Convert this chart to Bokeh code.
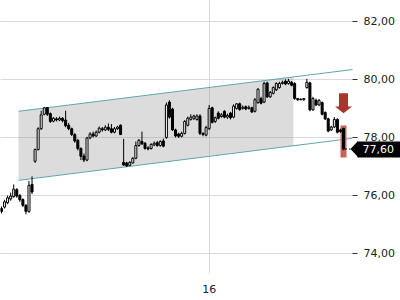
from bokeh.plotting import figure
from bokeh.models import FixedTicker, Range1d, LinearAxis, Grid, BoxAnnotation
from bokeh.embed import file_html
from bokeh.resources import INLINE

# ---- data ----
opens = [75.55, 75.60, 75.75, 75.88, 75.96, 76.20, 76.00, 75.86, 75.66, 75.45,
         76.38, 77.18, 77.58, 78.30, 78.80, 79.03, 78.82, 78.56, 78.64, 78.60,
         78.66, 78.60, 78.42, 78.30, 78.10, 77.90, 77.62, 77.36, 77.22, 77.98,
         78.12, 78.05, 78.18, 78.30, 78.26, 78.35, 78.30, 78.18, 78.30, 78.42,
         77.14, 77.12, 77.04, 77.12, 77.28, 77.72, 77.86, 77.80, 77.64, 77.62,
         77.74, 77.82, 77.72, 77.88, 78.00, 79.22, 78.98, 78.26, 78.12, 78.04,
         78.14, 78.42, 78.62, 78.66, 78.62, 78.74, 78.14, 78.08, 78.30, 79.02,
         78.55, 78.84, 78.72, 78.90, 78.70, 78.84, 78.70, 79.00, 79.16, 79.00,
         79.06, 79.00, 79.02, 78.90, 79.20, 79.34, 79.22, 79.88, 79.40, 79.52,
         79.64, 79.72, 79.86, 79.94, 79.86, 79.90, 79.86, 79.34, 79.32, 79.30,
         79.72, 79.88, 78.95, 79.28, 79.12, 79.20, 78.86, 78.64, 78.26, 78.36,
         78.62, 78.26, 78.31]
highs = [75.62, 75.85, 76.00, 76.10, 76.38, 76.25, 76.05, 75.90, 75.70, 76.50,
         76.66, 77.62, 78.35, 78.92, 79.05, 79.05, 78.86, 78.70, 78.70, 78.72,
         78.70, 78.92, 78.50, 78.34, 78.15, 77.95, 77.66, 77.45, 78.02, 78.18,
         78.20, 78.24, 78.38, 78.36, 78.42, 78.48, 78.46, 78.36, 78.40, 78.45,
         77.95, 77.16, 77.18, 77.32, 77.86, 77.95, 78.20, 77.84, 77.70, 77.80,
         77.86, 77.88, 77.90, 77.96, 79.20, 79.28, 79.02, 78.30, 78.16, 78.20,
         78.60, 78.72, 78.80, 78.78, 78.80, 78.80, 78.18, 78.40, 79.12, 79.06,
         78.72, 78.90, 78.84, 78.94, 78.82, 78.88, 79.14, 79.18, 79.20, 79.10,
         79.10, 79.10, 79.06, 79.36, 79.70, 79.40, 79.92, 79.92, 79.60, 79.76,
         79.90, 79.92, 79.96, 80.00, 80.02, 79.94, 79.90, 79.36, 79.34, 79.36,
         80.02, 79.92, 79.40, 79.34, 79.32, 79.24, 78.90, 78.68, 78.40, 78.70,
         78.66, 78.30, 78.33]
lows = [75.38, 75.55, 75.70, 75.82, 75.92, 75.92, 75.78, 75.60, 75.35, 75.40,
        76.05, 77.12, 77.55, 78.26, 78.76, 78.74, 78.50, 78.52, 78.55, 78.56,
        78.52, 78.35, 78.25, 78.05, 77.82, 77.55, 77.22, 77.15, 77.18, 77.94,
        78.00, 78.02, 78.14, 78.20, 78.22, 78.22, 78.14, 78.14, 78.26, 78.08,
        77.02, 76.98, 77.00, 77.10, 77.25, 77.68, 77.74, 77.58, 77.56, 77.58,
        77.70, 77.68, 77.68, 77.66, 77.95, 78.65, 78.22, 78.00, 77.98, 78.00,
        78.10, 78.38, 78.58, 78.60, 78.58, 78.08, 78.04, 78.04, 78.26, 78.48,
        78.50, 78.62, 78.68, 78.66, 78.64, 78.62, 78.66, 78.96, 78.92, 78.96,
        78.94, 78.96, 78.84, 78.86, 79.16, 79.14, 79.18, 79.36, 79.36, 79.48,
        79.60, 79.68, 79.82, 79.80, 79.82, 79.76, 79.30, 79.26, 79.28, 79.26,
        79.68, 78.90, 78.92, 79.08, 79.08, 78.76, 78.60, 78.18, 78.22, 78.32,
        78.14, 78.16, 77.56]
closes = [75.45, 75.78, 75.92, 75.98, 76.22, 75.98, 75.85, 75.66, 75.45, 76.35,
          76.12, 77.58, 78.30, 78.78, 79.02, 78.80, 78.55, 78.66, 78.60, 78.66,
          78.58, 78.40, 78.30, 78.10, 77.88, 77.62, 77.35, 77.22, 77.98, 78.12,
          78.05, 78.18, 78.32, 78.26, 78.35, 78.28, 78.18, 78.30, 78.36, 78.10,
          77.05, 77.02, 77.14, 77.28, 77.72, 77.90, 77.78, 77.62, 77.60, 77.76,
          77.80, 77.72, 77.86, 77.70, 79.12, 78.70, 78.26, 78.05, 78.04, 78.14,
          78.55, 78.66, 78.70, 78.74, 78.74, 78.14, 78.10, 78.34, 79.00, 78.52,
          78.68, 78.66, 78.78, 78.70, 78.76, 78.68, 79.08, 79.16, 78.96, 79.04,
          78.98, 79.04, 78.88, 79.30, 79.66, 79.18, 79.86, 79.40, 79.55, 79.72,
          79.86, 79.86, 79.90, 79.84, 79.94, 79.80, 79.34, 79.30, 79.30, 79.34,
          79.90, 78.95, 79.34, 79.12, 79.28, 78.80, 78.64, 78.22, 78.36, 78.62,
          78.18, 78.20, 77.60]

y_ticks = [74, 76, 78, 80, 82]
y_tick_labels = ["74,00", "76,00", "78,00", "80,00", "82,00"]
x_tick_index = [68]
x_tick_labels = ["16"]

channel_x = [5.57, 114.95]
channel_upper = [78.90, 80.34]
channel_lower = [76.52, 77.97]
zone_end_x = 95.6

last_price = 77.60
last_price_label = "77,60"
signal_top, signal_head, signal_tip = 79.52, 79.07, 78.83
range_band = [77.31, 78.41]

# ---- layout helpers ----
N = len(closes)
FRAME_W, FRAME_H = 400, 273
PLOT_EDGE = 352          # where the price panel ends and the scale begins
px_per_idx = 342.0 / (N - 1)
X0 = -1.0 / px_per_idx
X1 = X0 + FRAME_W / px_per_idx


def px_to_idx(px):
    return X0 + px / px_per_idx


Y0, Y1 = 73.31, 82.72
px_per_val = FRAME_H / (Y1 - Y0)

p = figure(width=400, height=300, output_backend="svg", toolbar_location=None,
           x_range=Range1d(X0, X1), y_range=Range1d(Y0, Y1),
           y_axis_location=None,
           min_border_left=0, min_border_top=0, min_border_right=0,
           min_border_bottom=300 - FRAME_H)
p.outline_line_color = None
p.background_fill_color = "white"

# grids
p.ygrid.visible = False
p.add_layout(Grid(dimension=1, ticker=FixedTicker(ticks=y_ticks),
                  grid_line_color="#dadada", grid_line_width=1))
p.xgrid.ticker = FixedTicker(ticks=x_tick_index)
p.xgrid.grid_line_color = "#dadada"
# keep the scale area (right of the price panel) free of grid lines
p.add_layout(BoxAnnotation(left=px_to_idx(PLOT_EDGE), right=X1, level="underlay",
                           fill_color="white", fill_alpha=1.0, line_color=None))

# x axis
xa = p.xaxis[0]
xa.ticker = FixedTicker(ticks=x_tick_index)
xa.major_label_overrides = {t: l for t, l in zip(x_tick_index, x_tick_labels)}
xa.axis_line_color = None
xa.major_tick_line_color = None
xa.minor_tick_line_color = None
xa.major_label_standoff = 5
xa.major_label_text_font = "DejaVu Sans"
xa.major_label_text_font_size = "11px"
xa.major_label_text_color = "#222222"

# price scale (right), placed at the edge of the price panel
ya = LinearAxis(fixed_location=px_to_idx(PLOT_EDGE), ticker=FixedTicker(ticks=y_ticks),
                major_label_overrides={t: l for t, l in zip(y_ticks, y_tick_labels)})
ya.axis_line_color = None
ya.major_tick_in = 0
ya.major_tick_out = 5
ya.major_tick_line_color = "#333333"
ya.minor_tick_line_color = None
ya.major_label_standoff = 6
ya.major_label_text_font = "DejaVu Sans"
ya.major_label_text_font_size = "11px"
ya.major_label_text_color = "#222222"
p.add_layout(ya, "right")

# last-price tag: thick tick = black box, white label
tag_axis = LinearAxis(fixed_location=px_to_idx(357), ticker=FixedTicker(ticks=[last_price]),
                      major_label_overrides={last_price: last_price_label})
tag_axis.axis_line_color = None
tag_axis.minor_tick_line_color = None
tag_axis.major_tick_in = 0
tag_axis.major_tick_out = 45
tag_axis.major_tick_line_width = 16
tag_axis.major_tick_line_color = "black"
tag_axis.major_tick_line_cap = "butt"
tag_axis.major_label_standoff = -40
tag_axis.major_label_text_font = "DejaVu Sans"
tag_axis.major_label_text_font_size = "11px"
tag_axis.major_label_text_color = "white"
p.add_layout(tag_axis, "right")


def interp(xs, ys, x):
    return ys[0] + (ys[1] - ys[0]) * (x - xs[0]) / (xs[1] - xs[0])


# shaded channel zone
zone_xs = [channel_x[0], zone_end_x, zone_end_x, channel_x[0]]
zone_ys = [channel_lower[0], interp(channel_x, channel_lower, zone_end_x),
           interp(channel_x, channel_upper, zone_end_x), channel_upper[0]]
p.patch(zone_xs, zone_ys, fill_color="#8c8c8c", fill_alpha=0.3, line_color=None)

# channel lines
p.line(channel_x, channel_upper, line_color="#5fa7aa", line_width=1)
p.line(channel_x, channel_lower, line_color="#5fa7aa", line_width=1)

# red range band behind last candle
last_i = N - 1
band_half = 3.0 / px_per_idx
p.quad(left=[last_i - band_half], right=[last_i + band_half],
       bottom=[range_band[0]], top=[range_band[1]],
       fill_color="#c0504a", fill_alpha=0.9, line_color=None)

# candles
idx = list(range(N))
p.segment(idx, highs, idx, lows, line_color="black", line_width=1)
up_i = [i for i in idx if closes[i] >= opens[i]]
dn_i = [i for i in idx if closes[i] < opens[i]]
body_w = 2.0 / px_per_idx
p.vbar(x=up_i, width=body_w, top=[closes[i] for i in up_i],
       bottom=[opens[i] for i in up_i], fill_color="white",
       line_color="black", line_width=1)
p.vbar(x=dn_i, width=body_w, top=[opens[i] for i in dn_i],
       bottom=[closes[i] for i in dn_i], fill_color="black",
       line_color="black", line_width=1)

# dashed connector to price tag
p.segment([last_i + 0.5], [last_price], [px_to_idx(350)], [last_price],
          line_color="black", line_width=1, line_dash="2 2")

# red down arrow
shaft_half = 4.5 / px_per_idx
head_half = 8.5 / px_per_idx
ax = last_i
arrow_xs = [ax - shaft_half, ax + shaft_half, ax + shaft_half, ax + head_half,
            ax, ax - head_half, ax - shaft_half]
arrow_ys = [signal_top, signal_top, signal_head, signal_head,
            signal_tip, signal_head, signal_head]
p.patch(arrow_xs, arrow_ys, fill_color="#a8352e", line_color=None)

# price tag pointer
half_h = 8 / px_per_val
p.patch([px_to_idx(350), px_to_idx(357.5), px_to_idx(357.5)],
        [last_price, last_price + half_h, last_price - half_h],
        fill_color="black", line_color=None)

with open("out.html", "w") as f:
    f.write(file_html(p, INLINE))
